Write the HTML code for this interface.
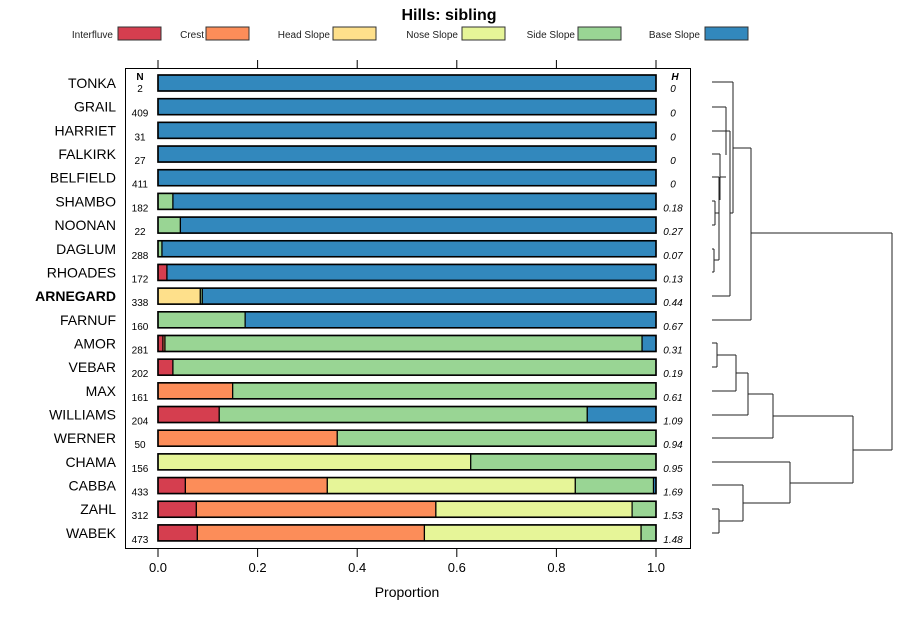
<!DOCTYPE html>
<html><head><meta charset="utf-8"><style>
body{margin:0;background:#fff}
svg{display:block;font-family:"Liberation Sans",sans-serif}
</style></head><body>
<svg id="c" width="900" height="620"></svg>
<script>
const names=["TONKA","GRAIL","HARRIET","FALKIRK","BELFIELD","SHAMBO","NOONAN","DAGLUM","RHOADES","ARNEGARD","FARNUF","AMOR","VEBAR","MAX","WILLIAMS","WERNER","CHAMA","CABBA","ZAHL","WABEK"];
const nVals=[2,409,31,27,411,182,22,288,172,338,160,281,202,161,204,50,156,433,312,473];
const hVals=["0","0","0","0","0","0.18","0.27","0.07","0.13","0.44","0.67","0.31","0.19","0.61","1.09","0.94","0.95","1.69","1.53","1.48"];
const classes=["Interfluve","Crest","Head Slope","Nose Slope","Side Slope","Base Slope"];
const colors=["#D53E4F","#FC8D59","#FEE08B","#E6F598","#99D594","#3288BD"];
const interfluve=[0,0,0,0,0,0,0,0,0.018,0,0,0.01,0.03,0,0.123,0,0,0.055,0.077,0.079];
const crest=[0,0,0,0,0,0,0,0,0,0,0,0.004,0,0.15,0,0.36,0,0.285,0.481,0.456];
const headSlope=[0,0,0,0,0,0,0,0,0,0.085,0,0,0,0,0,0,0,0,0,0];
const noseSlope=[0,0,0,0,0,0,0,0,0,0,0,0,0,0,0,0,0.628,0.498,0.394,0.435];
const sideSlope=[0,0,0,0,0,0.03,0.045,0.008,0,0.004,0.175,0.958,0.97,0.85,0.739,0.64,0.372,0.157,0.048,0.03];
const baseSlope=[1,1,1,1,1,0.97,0.955,0.992,0.982,0.911,0.825,0.028,0,0,0.138,0,0,0.005,0,0];
const ticks=[0,0.2,0.4,0.6,0.8,1.0];
const series=[interfluve,crest,headSlope,noseSlope,sideSlope,baseSlope];
const svg=document.getElementById('c');const NS="http://www.w3.org/2000/svg";
function mk(t,a,p){const e=document.createElementNS(NS,t);for(const k in a)e.setAttribute(k,a[k]);(p||svg).appendChild(e);return e;}
const x=v=>158+v*498;
const y=i=>83+i*23.68;
let t=mk('text',{x:449,y:20,'text-anchor':'middle','font-size':16,'font-weight':'bold'});t.textContent="Hills: sibling";

const legX=[[113,118],[204,206],[330,333],[458,462],[575,578],[700,705]];
classes.forEach((c,i)=>{
 const g=mk('g',{});
 
 const tt=mk('text',{x:legX[i][0],y:38,'text-anchor':'end','font-size':10,fill:'#222'},g);tt.textContent=c;
 mk('rect',{x:legX[i][1],y:27,width:43,height:13,fill:colors[i],stroke:'#333','stroke-width':1},g);
});
const panel=mk('rect',{x:125.5,y:68.5,width:565,height:480,fill:'none',stroke:'#000'});

ticks.forEach(v=>{
 mk('line',{x1:x(v),x2:x(v),y1:60,y2:68,stroke:'#000'});
 mk('line',{x1:x(v),x2:x(v),y1:549,y2:557,stroke:'#000'});
 const l=mk('text',{x:x(v),y:572,'text-anchor':'middle','font-size':13});l.textContent=v.toFixed(1);
 
});
t=mk('text',{x:407,y:597,'text-anchor':'middle','font-size':14});t.textContent="Proportion";

let h=mk('text',{x:140,y:80,'text-anchor':'middle','font-size':10,'font-weight':'bold'});h.textContent="N";
h=mk('text',{x:675,y:80,'text-anchor':'middle','font-size':10,'font-weight':'bold','font-style':'italic'});h.textContent="H";
names.forEach((n,i)=>{
 const cy=y(i);
 const l=mk('text',{x:116,y:cy+5,'text-anchor':'end','font-size':14,'font-weight':n==="ARNEGARD"?'bold':'normal'});l.textContent=n;
 
 const nl=mk('text',{x:140,y:cy+(i===0?9:10),'text-anchor':'middle','font-size':10});nl.textContent=nVals[i];
 
 const hl=mk('text',{x:673,y:cy+(i===0?9:10),'text-anchor':'middle','font-size':10,'font-style':'italic'});hl.textContent=hVals[i];
 
 let acc=0;
 series.forEach((s,k)=>{
  const v=s[i];if(v<=0)return;
  const r=mk('rect',{x:x(acc),y:cy-8,width:x(acc+v)-x(acc),height:16,fill:colors[k],stroke:'#000','stroke-width':1.2});
  
  acc+=v;
 });
 const o=mk('rect',{x:x(0),y:cy-8,width:x(1)-x(0),height:16,fill:'none',stroke:'#000','stroke-width':1.6});
 
});
const dg=mk('g',{stroke:'#222','stroke-width':1,fill:'none'});

const segs=[
[712,82,733,82],[733,82,733,213],[733,148,751,148],[712,320,751,320],[751,148,751,320],[751,233,892,233],
[712,107,726,107],[726,107,726,155],[712,131,730,131],[730,131,730,296],[712,296,730,296],[730,213,733,213],
[712,154,720,154],[720,154,720,200],[720,177,726,177],[712,177,719,177],[719,177,719,260],
[712,201,715,201],[712,225,715,225],[715,201,715,225],[715,213,719,213],
[712,249,714,249],[712,272,714,272],[714,249,714,272],[714,260,719,260],
[712,343,717,343],[712,367,717,367],[717,343,717,367],[717,355,736,355],[712,391,736,391],[736,355,736,391],
[736,373,748,373],[712,415,748,415],[748,373,748,415],[748,394,773,394],[712,438,773,438],[773,394,773,438],
[773,416,853,416],[853,416,853,483],[853,450,892,450],[892,233,892,450],
[712,462,790,462],[790,462,790,503],[790,483,853,483],
[712,485,743,485],[743,485,743,521],[743,503,790,503],
[712,509,719,509],[712,533,719,533],[719,509,719,533],[719,521,743,521]];
segs.forEach(s=>mk('line',{x1:s[0],y1:s[1],x2:s[2],y2:s[3]},dg));
</script>
</body></html>
